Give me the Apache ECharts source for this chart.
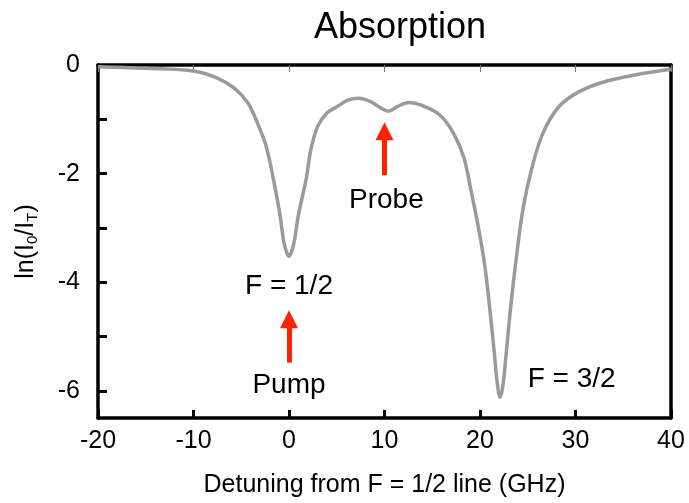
<!DOCTYPE html>
<html>
<head>
<meta charset="utf-8">
<script src="https://cdn.jsdelivr.net/npm/echarts@6/dist/echarts.min.js"></script>
<style>
  html, body { margin: 0; padding: 0; background: #fff; }
  #chart { width: 689px; height: 503px; }
</style>
</head>
<body>
<div id="chart"></div>
<script>
// detuning (GHz) and absorbance ln(I0/IT)
const detuning = [-20, -15, -10, -7.5, -5.7, -4.3, -3.3, -2.4, -1.7, -1.0, -0.55, -0.25, 0, 0.25, 0.55, 1.0,
  1.8, 2.3, 3.0, 4.0, 5.1, 6.1, 7.3, 8.5, 9.6, 10.4, 11.3, 12.5, 14.0, 15.8, 17.2, 18.3, 19.1, 19.8, 20.5,
  21.0, 21.5, 21.8, 22.1, 22.4, 22.75, 23.2, 23.8, 24.5, 25.4, 26.6, 28.3, 30.4, 33.2, 36.3, 40]
const absorbance = [-0.03, -0.06, -0.11, -0.24, -0.43, -0.70, -1.07, -1.49, -2.04, -2.70, -3.25, -3.45, -3.52,
  -3.45, -3.25, -2.75, -2.10, -1.55, -1.13, -0.88, -0.76, -0.65, -0.61, -0.67, -0.79, -0.85, -0.77, -0.69,
  -0.75, -0.92, -1.25, -1.70, -2.35, -2.96, -3.69, -4.45, -5.30, -5.85, -6.12, -5.90, -5.30, -4.48, -3.56,
  -2.65, -1.92, -1.25, -0.76, -0.49, -0.30, -0.18, -0.08]

const yTicks = [0, -1, -2, -3, -4, -5, -6]
const yTickLabels = [0, -2, -4, -6]

// annotation texts at data positions
const notes = [
  { text: 'F = 1/2', x: 0, y: -4.08 },
  { text: 'Pump', x: 0, y: -5.9 },
  { text: 'Probe', x: 10.2, y: -2.49 },
  { text: 'F = 3/2', x: 29.6, y: -5.78 },
]
// arrows: [x, tail y, head y]
const arrows = [
  [0, -5.48, -4.68],
  [10, -2.03, -1.22],
]

const FONT = "'Liberation Sans', Arial, sans-serif"
const chart = echarts.init(document.getElementById('chart'))

chart.setOption({
  animation: false,
  title: {
    text: 'Absorption',
    left: 395,
    top: 5,
    textAlign: 'center',
    textStyle: { fontFamily: FONT, fontSize: 36, fontWeight: 'normal', color: '#000' },
  },
  grid: { left: 98, right: 18, top: 65, bottom: 83 },
  xAxis: [
    {
      type: 'value',
      min: -20,
      max: 40,
      interval: 10,
      position: 'bottom',
      name: 'Detuning from F = 1/2 line (GHz)',
      nameLocation: 'middle',
      nameGap: 55,
      nameTextStyle: { fontFamily: FONT, fontSize: 25, color: '#000' },
      axisLine: { onZero: false, lineStyle: { color: '#000', width: 3.5 } },
      axisTick: { inside: true, length: 8, lineStyle: { color: '#000', width: 3 } },
      axisLabel: { fontFamily: FONT, fontSize: 25, color: '#000', margin: 11 },
      splitLine: { show: false },
    },
    {
      type: 'value',
      min: -20,
      max: 40,
      interval: 10,
      position: 'top',
      axisLine: { onZero: false, lineStyle: { color: '#000', width: 3.5 } },
      axisTick: { inside: true, length: 7, lineStyle: { color: '#777', width: 1 } },
      axisLabel: { show: false },
      splitLine: { show: false },
    },
  ],
  yAxis: [
    {
      type: 'value',
      min: -6.5,
      max: 0,
      position: 'left',
      name: '{n|ln(I}{s|0}{n|/I}{s|T}{n|)}',
      nameLocation: 'middle',
      nameGap: 58,
      nameRotate: 90,
      nameTextStyle: {
        rich: {
          n: { fontFamily: FONT, fontSize: 25, color: '#000', lineHeight: 28 },
          s: { fontFamily: FONT, fontSize: 15, color: '#000', verticalAlign: 'bottom', lineHeight: 14 },
        },
      },
      axisLine: { onZero: false, lineStyle: { color: '#000', width: 3.5 } },
      axisTick: { inside: true, length: 9, customValues: yTicks, lineStyle: { color: '#000', width: 3 } },
      axisLabel: { fontFamily: FONT, fontSize: 25, color: '#000', margin: 18, customValues: yTickLabels },
      splitLine: { show: false },
    },
    {
      type: 'value',
      min: -6.5,
      max: 0,
      position: 'right',
      axisLine: { show: true, onZero: false, lineStyle: { color: '#000', width: 3.5 } },
      axisTick: { show: false },
      axisLabel: { show: false },
      splitLine: { show: false },
    },
  ],
  series: [
    {
      name: 'Absorption',
      type: 'line',
      data: detuning.map((d, i) => [d, absorbance[i]]),
      smooth: 0.35,
      showSymbol: false,
      lineStyle: { color: '#9a9a9a', width: 3.5 },
      markLine: {
        silent: true,
        symbol: ['none', 'triangle'],
        symbolSize: 18,
        label: { show: false },
        lineStyle: { color: '#ff2200', width: 5, type: 'solid' },
        itemStyle: { color: '#ff2200' },
        data: arrows.map(a => [{ coord: [a[0], a[1]] }, { coord: [a[0], a[2]] }]),
      },
      markPoint: {
        silent: true,
        symbol: 'circle',
        symbolSize: 1,
        itemStyle: { color: 'rgba(0,0,0,0)' },
        label: {
          show: true,
          position: 'inside',
          formatter: p => p.name,
          fontFamily: FONT,
          fontSize: 28,
          color: '#000',
        },
        data: notes.map(n => ({ name: n.text, coord: [n.x, n.y] })),
      },
    },
  ],
})
</script>
</body>
</html>
